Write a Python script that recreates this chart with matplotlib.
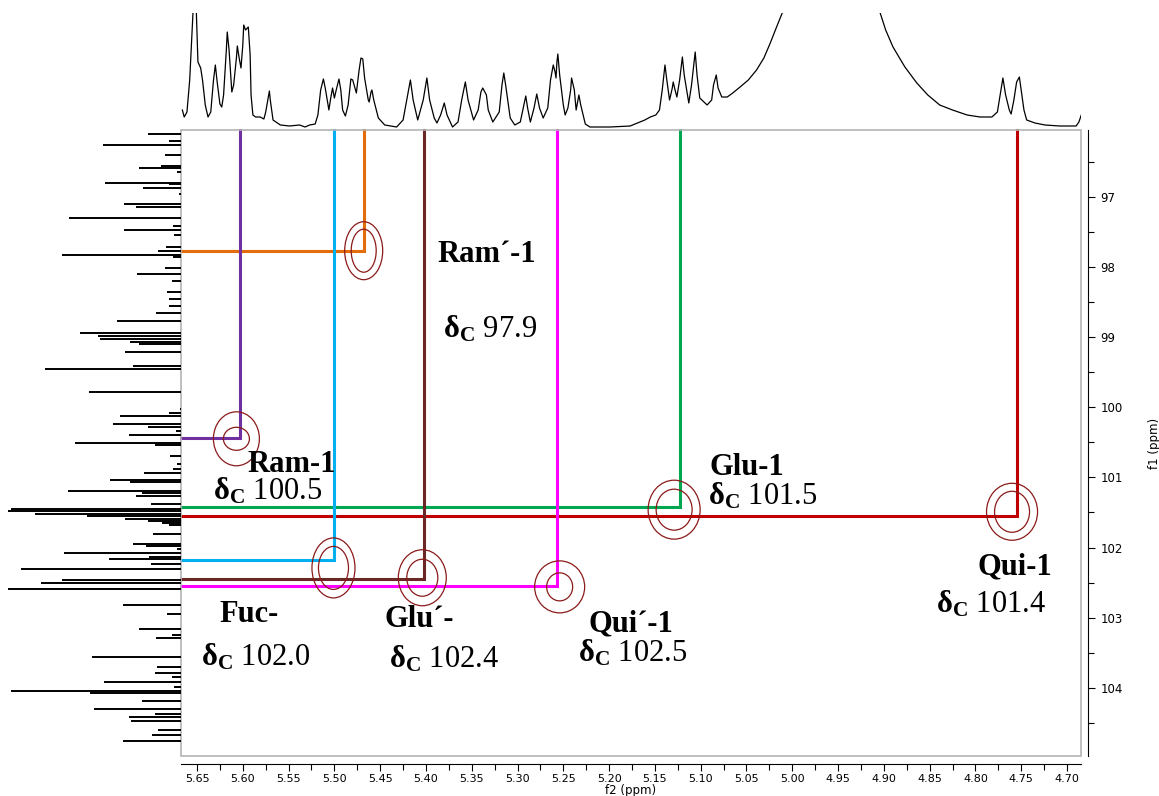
import numpy as np
import matplotlib
matplotlib.use('Agg')
import matplotlib.pyplot as plt
from matplotlib.patches import Ellipse, Rectangle
from matplotlib.ticker import MultipleLocator

plt.rcParams['mathtext.fontset'] = 'custom'
plt.rcParams['mathtext.rm'] = 'Liberation Serif'
plt.rcParams['mathtext.bf'] = 'Liberation Serif:bold'
plt.rcParams['mathtext.it'] = 'Liberation Serif:italic'

# ============================================================
# DATA
# ============================================================
# cross peaks (anomeric H-1 / C-1)
peak_names = ['Ram´-1', 'Glu-1', 'Qui-1', 'Ram-1', 'Fuc-', 'Glu´-', 'Qui´-1']
peak_colors = ['#E46C0A', '#00A650', '#C00000', '#7030A0', '#00B0F0', '#6B2626', '#FF00FF']
peak_h = [5.468, 5.123, 4.755, 5.603, 5.500, 5.402, 5.257]      # f2, ppm
peak_c = [97.77, 101.42, 101.55, 100.44, 102.18, 102.45, 102.55]  # f1, ppm
peak_label_c = ['97.9', '101.5', '101.4', '100.5', '102.0', '102.4', '102.5']

# contour ellipses (centre, outer w/h, inner w/h in ppm)
cont_h = [5.468, 5.129, 4.760, 5.607, 5.501, 5.404, 5.254]
cont_c = [97.77, 101.46, 101.49, 100.45, 102.29, 102.43, 102.56]
cont_w_out = [0.0415, 0.0568, 0.0557, 0.0502, 0.0470, 0.0524, 0.0546]
cont_hgt_out = [0.826, 0.840, 0.812, 0.769, 0.855, 0.798, 0.741]
cont_w_in = [0.0273, 0.0393, 0.0382, 0.0284, 0.0328, 0.0339, 0.0284]
cont_hgt_in = [0.613, 0.584, 0.584, 0.328, 0.613, 0.527, 0.399]

# 1H projection (top)
h_ppm = [5.666, 5.664, 5.661, 5.658, 5.654, 5.651, 5.649, 5.646, 5.644, 5.641, 5.638, 5.635,
         5.632, 5.630, 5.628, 5.625, 5.623, 5.621, 5.618, 5.617, 5.615, 5.612, 5.610, 5.607,
         5.606, 5.604, 5.602, 5.600, 5.599, 5.597, 5.594, 5.592, 5.591, 5.589, 5.586, 5.581,
         5.577, 5.575, 5.571, 5.570, 5.567, 5.559, 5.549, 5.538, 5.532, 5.527, 5.521, 5.518,
         5.515, 5.512, 5.510, 5.506, 5.504, 5.502, 5.500, 5.498, 5.495, 5.493, 5.491, 5.488,
         5.485, 5.482, 5.480, 5.476, 5.473, 5.471, 5.469, 5.467, 5.463, 5.462, 5.460, 5.459,
         5.457, 5.452, 5.445, 5.432, 5.425, 5.421, 5.417, 5.414, 5.409, 5.403, 5.399, 5.396,
         5.391, 5.388, 5.384, 5.380, 5.377, 5.371, 5.365, 5.361, 5.357, 5.354, 5.348, 5.343,
         5.340, 5.338, 5.334, 5.332, 5.327, 5.320, 5.317, 5.315, 5.313, 5.308, 5.303, 5.297,
         5.293, 5.291, 5.289, 5.286, 5.282, 5.279, 5.276, 5.272, 5.267, 5.264, 5.261, 5.259,
         5.258, 5.257, 5.256, 5.254, 5.250, 5.248, 5.245, 5.242, 5.241, 5.238, 5.236, 5.234,
         5.233, 5.231, 5.226, 5.221, 5.199, 5.177, 5.161, 5.155, 5.149, 5.145, 5.142, 5.139,
         5.137, 5.134, 5.131, 5.130, 5.128, 5.126, 5.123, 5.120, 5.118, 5.113, 5.110, 5.106,
         5.104, 5.101, 5.093, 5.088, 5.086, 5.083, 5.081, 5.077, 5.071, 5.065, 5.057, 5.048,
         5.039, 5.031, 5.024, 5.018, 5.011, 5.007, 4.958, 4.910, 4.904, 4.898, 4.890, 4.877,
         4.864, 4.852, 4.839, 4.825, 4.809, 4.795, 4.782, 4.776, 4.773, 4.770, 4.767, 4.763,
         4.761, 4.758, 4.755, 4.752, 4.750, 4.747, 4.744, 4.735, 4.724, 4.708, 4.697, 4.690,
         4.687, 4.684]
h_int = [20, 13, 18, 50, 125, 125, 68, 62, 50, 25, 13, 18,
         50, 65, 48, 26, 23, 35, 80, 98, 80, 38, 45, 72,
         84, 72, 62, 85, 105, 100, 103, 75, 35, 15, 13, 13,
         11, 18, 39, 30, 10, 5, 4, 5, 3, 5, 6, 15,
         40, 51, 42, 20, 32, 42, 32, 40, 51, 40, 20, 14,
         25, 51, 50, 37, 60, 72, 71, 52, 30, 28, 38, 40,
         30, 12, 5, 3, 10, 30, 50, 30, 10, 30, 52, 30,
         12, 7, 15, 27, 15, 3, 8, 30, 48, 30, 10, 20,
         38, 42, 35, 20, 8, 18, 45, 57, 45, 12, 5, 8,
         25, 34, 22, 8, 22, 36, 22, 12, 22, 50, 65, 58,
         52, 68, 76, 55, 25, 15, 22, 40, 52, 40, 20, 30,
         35, 25, 6, 3, 3, 4, 10, 13, 15, 20, 40, 65,
         50, 30, 42, 48, 40, 33, 50, 73, 55, 27, 45, 78,
         55, 32, 25, 30, 45, 55, 42, 33, 33, 37, 43, 50,
         60, 72, 87, 101, 117, 130, 400, 130, 117, 100, 83, 63,
         47, 35, 25, 20, 15, 13, 13, 18, 35, 52, 35, 20,
         16, 30, 48, 53, 40, 20, 10, 7, 5, 4, 4, 4,
         8, 16]

# 13C projection (left)
c_ppm = [96.11, 96.21, 96.26, 96.41, 96.56, 96.59, 96.65, 96.80, 96.82, 96.88, 96.96, 97.10,
         97.15, 97.30, 97.42, 97.47, 97.55, 97.72, 97.77, 97.83, 97.86, 98.02, 98.10, 98.20,
         98.36, 98.46, 98.56, 98.66, 98.77, 98.94, 98.98, 99.03, 99.07, 99.10, 99.21, 99.41,
         99.45, 99.78, 100.02, 100.08, 100.12, 100.24, 100.28, 100.34, 100.39, 100.51, 100.54,
         100.69, 100.81, 100.88, 100.94, 101.04, 101.06, 101.19, 101.22, 101.26, 101.38,
         101.45, 101.48, 101.52, 101.55, 101.59, 101.62, 101.65, 101.68, 101.81, 101.95,
         101.98, 102.02, 102.08, 102.13, 102.16, 102.23, 102.30, 102.46, 102.50, 102.59,
         102.82, 102.94, 103.16, 103.24, 103.29, 103.56, 103.70, 103.79, 103.85, 103.91,
         103.98, 104.04, 104.07, 104.18, 104.30, 104.37, 104.41, 104.47, 104.60, 104.67, 104.75]
c_int = [33, 12, 78, 16, 20, 42, 4, 76, 12, 38, 2, 57,
         45, 112, 8, 57, 7, 15, 23, 119, 8, 16, 44, 9,
         14, 12, 12, 25, 64, 101, 83, 81, 51, 42, 56, 48,
         136, 92, 1, 12, 61, 68, 33, 5, 52, 106, 26,
         11, 4, 8, 37, 71, 51, 113, 39, 45, 30,
         170, 173, 146, 94, 56, 33, 19, 12, 28, 48,
         35, 4, 117, 32, 72, 30, 160, 119, 140, 173,
         58, 14, 42, 9, 25, 89, 24, 26, 9, 77,
         7, 170, 91, 39, 87, 26, 52, 50, 23, 29, 58]

# label placement (left x, baseline y in ppm)
name_pos = [(5.388, 97.93), (5.090, 100.96), (4.798, 102.39), (5.595, 100.92),
            (5.625, 103.06), (5.445, 103.13), (5.223, 103.20)]
delta_pos = [(5.381, 99.00), (5.092, 101.39), (4.843, 102.93), (5.633, 101.32),
             (5.646, 103.685), (5.440, 103.71), (5.234, 103.63)]

X_LIM = (5.6675, 4.6847)
Y_LIM = (104.97, 96.05)

# ============================================================
# FIGURE
# ============================================================
fig = plt.figure(figsize=(11.59, 7.96), dpi=100)
W, H = 1159, 796
ax = fig.add_axes([181 / W, 1 - 756 / H, 900 / W, 626 / H])
ax_top = fig.add_axes([181 / W, 1 - 130 / H, 900 / W, 117 / H])
ax_left = fig.add_axes([0, 1 - 756 / H, 181 / W, 626 / H])

# --- main 2D panel ---
ax.set_xlim(*X_LIM)
ax.set_ylim(*Y_LIM)

for z in range(len(peak_h)):
    ax.plot([X_LIM[0], peak_h[z], peak_h[z]], [peak_c[z], peak_c[z], Y_LIM[1]],
            color=peak_colors[z], lw=2.2, solid_joinstyle='miter', zorder=2 + z * 0.01,
            clip_on=False)

for i in range(len(cont_h)):
    for w, hh in [(cont_w_out[i], cont_hgt_out[i]), (cont_w_in[i], cont_hgt_in[i])]:
        ax.add_patch(Ellipse((cont_h[i], cont_c[i]), w, hh, fill=False,
                             edgecolor='#8B1A1A', lw=0.9, zorder=3))

for i in range(len(peak_names)):
    ax.text(name_pos[i][0], name_pos[i][1], peak_names[i], ha='left', va='baseline',
            fontsize=22, fontweight='bold', family='Liberation Serif', zorder=5)
    ax.text(delta_pos[i][0], delta_pos[i][1], r'$\mathbf{δ_C}$ ' + peak_label_c[i],
            ha='left', va='baseline', fontsize=22, family='Liberation Serif', zorder=5)

# box + offset axes
for s in ['top', 'left']:
    ax.spines[s].set_visible(False)
ax.add_patch(Rectangle((0, 0), 1, 1, transform=ax.transAxes, fill=False,
                       edgecolor='#B4B4B4', lw=1.2, zorder=6, clip_on=False))
ax.spines['bottom'].set_position(('outward', 6))
ax.spines['right'].set_position(('outward', 5))
ax.spines['bottom'].set_color('black')
ax.spines['right'].set_color('black')

ax.xaxis.set_major_locator(MultipleLocator(0.05))
ax.xaxis.set_minor_locator(MultipleLocator(0.025))
ax.yaxis.set_major_locator(MultipleLocator(1))
ax.yaxis.set_minor_locator(MultipleLocator(0.5))
ax.yaxis.tick_right()
ax.yaxis.set_label_position('right')
ax.tick_params(axis='x', which='major', length=5, width=0.8, labelsize=8, pad=2)
ax.tick_params(axis='x', which='minor', length=4, width=0.8)
ax.tick_params(axis='y', which='major', length=5, width=0.8, labelsize=8.5, pad=4)
ax.tick_params(axis='y', which='minor', length=4, width=0.8)
ax.xaxis.set_major_formatter(matplotlib.ticker.FormatStrFormatter('%.2f'))
ax.set_xlabel('f2 (ppm)', fontsize=8.5, labelpad=0)
ax.set_ylabel('f1 (ppm)', fontsize=8.5, labelpad=18)

# --- top 1H projection ---
ax_top.plot(h_ppm, h_int, color='black', lw=0.9)
ax_top.set_xlim(*X_LIM)
ax_top.set_ylim(0, 117)
ax_top.axis('off')

# --- left 13C projection ---
ax_left.hlines(c_ppm, 0, c_int, color='black', lw=1.4)
ax_left.set_xlim(181, 0)
ax_left.set_ylim(*Y_LIM)
ax_left.axis('off')

plt.savefig('out.png', dpi=100)
plt.close()
print("saved out.png")
